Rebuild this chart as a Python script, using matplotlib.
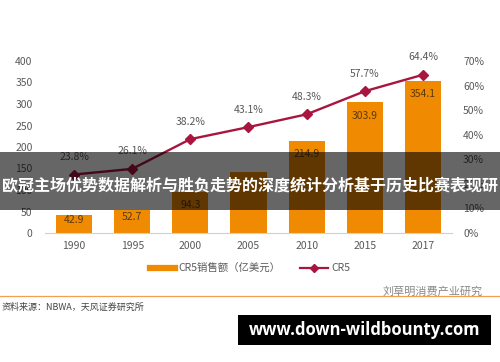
import matplotlib
matplotlib.use("Agg")
import matplotlib.pyplot as plt
from matplotlib.patches import Rectangle
import numpy as np

plt.rcParams['font.family'] = ['Noto Sans CJK SC', 'DejaVu Sans']

years = ['1990', '1995', '2000', '2005', '2010', '2015', '2017']
sales = [42.9, 52.7, 94.3, 142.0, 214.9, 303.9, 354.1]
cr5 = [23.8, 26.1, 38.2, 43.1, 48.3, 57.7, 64.4]
left_ticks = [0, 50, 100, 150, 200, 250, 300, 350, 400]
right_ticks = [0, 10, 20, 30, 40, 50, 60, 70]
bar_labels = ['42.9', '52.7', '94.3', '', '214.9', '303.9', '354.1']

title = '欧冠主场优势数据解析与胜负走势的深度统计分析基于历史比赛表现研'
source = '资料来源：NBWA，天风证券研究所'
watermark = '刘草明消费产业研究'
site = 'www.down-wildbounty.com'

ORANGE = '#F08A00'
RED = '#A8163F'
GRAY = '#595959'

fig = plt.figure(figsize=(5.0, 3.62), dpi=100)
W, H = 500, 362
ax = fig.add_axes([45 / W, 1 - 233 / H, 407 / W, 172 / H])
ax2 = ax.twinx()

x = np.arange(len(years))
ax.bar(x, sales, width=0.62, color=ORANGE, zorder=2)
for xi, v, lab in zip(x, sales, bar_labels):
    if lab:
        ax.text(xi, max(v - 32, v * 0.7), lab, ha='center', va='center',
                fontsize=7.5, color='#5a3a10', zorder=3)

ax.set_xlim(-0.5, len(years) - 0.5)
ax.set_ylim(0, 400)
ax.set_yticks(left_ticks)
ax.set_xticks(x)
ax.set_xticklabels(years)
for s in ['top', 'right', 'left']:
    ax.spines[s].set_visible(False)
ax.spines['bottom'].set_color('#d0d0d0')
ax.tick_params(axis='both', length=0, labelsize=7.5, colors=GRAY)
ax.tick_params(axis='y', pad=9)
ax.tick_params(axis='x', pad=6)

ax2.plot(x, cr5, color=RED, lw=1.7, marker='D', ms=5, zorder=4)
for xi, v in zip(x, cr5):
    ax2.annotate(f'{v}%', (xi, v), xytext=(0, 9), textcoords='offset points',
                 ha='center', va='bottom', fontsize=7.5, color=GRAY)
ax2.set_ylim(0, 70)
ax2.set_yticks(right_ticks)
ax2.set_yticklabels([f'{t}%' for t in right_ticks])
for s in ['top', 'right', 'left', 'bottom']:
    ax2.spines[s].set_visible(False)
ax2.tick_params(axis='y', length=0, labelsize=7.5, colors=GRAY, pad=8)

# legend (manual, figure coords)
fig.add_artist(plt.Line2D([150 / W, 175 / W], [1 - 268 / H] * 2, color=ORANGE, lw=4.5,
                          transform=fig.transFigure))
fig.text(178 / W, 1 - 268 / H, 'CR5销售额（亿美元）', fontsize=7.5, color=GRAY, va='center')
fig.add_artist(plt.Line2D([300 / W, 328 / W], [1 - 268 / H] * 2, color=RED, lw=1.6,
                          transform=fig.transFigure))
fig.add_artist(plt.Line2D([314 / W], [1 - 268 / H], color=RED, marker='D', ms=4,
                          transform=fig.transFigure))
fig.text(331 / W, 1 - 268 / H, 'CR5', fontsize=7.5, color=GRAY, va='center')

# orange rule and watermark
fig.add_artist(plt.Line2D([0, 1], [1 - 296 / H] * 2, color='#F0A050', lw=0.9,
                          transform=fig.transFigure))
fig.text(383 / W, 1 - 292 / H, watermark, fontsize=8, color='#888888', va='center')
fig.text(2 / W, 1 - 307 / H, source, fontsize=6.5, color='#444444', va='center')

# title overlay
fig.add_artist(Rectangle((0, 1 - 210 / H), 1, 58 / H, transform=fig.transFigure,
                         facecolor='black', alpha=0.6, edgecolor='none', zorder=10))
fig.text(0.5, 1 - 185 / H, title, fontsize=11.5, color='white', fontweight='bold',
         ha='center', va='center', zorder=11)

# site box
fig.add_artist(Rectangle((238 / W, 1 - 345 / H), 253 / W, 30 / H, transform=fig.transFigure,
                         facecolor='black', edgecolor='none', zorder=10))
fig.text(364.5 / W, 1 - 330 / H, site, fontsize=12, color='white', fontweight='bold',
         ha='center', va='center', family=['Open Sans', 'DejaVu Sans'], zorder=11)

fig.savefig('out.png', dpi=100)
